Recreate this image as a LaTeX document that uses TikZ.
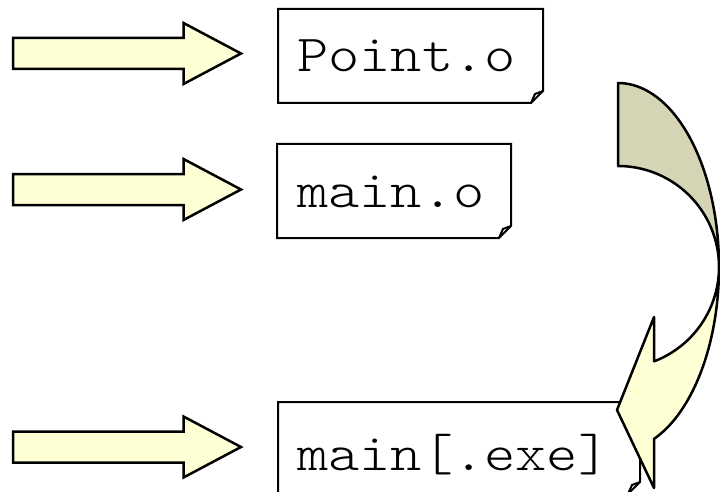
\documentclass[tikz,border=0pt]{standalone}
\usepackage{fontspec}
\newfontfamily\courfont[FakeStretch=1.143]{lmmonolt10-regular.otf}
\usetikzlibrary{calc}
\definecolor{ylw}{RGB}{255,255,213}
\definecolor{olv}{RGB}{213,213,181}
\tikzset{
  blockarrow/.style={fill=ylw,draw=black,line width=2.5pt,line join=miter},
  docline/.style={draw=black,line width=2pt,line join=miter},
  boxarea/.style={rectangle,inner sep=0pt,outer sep=0pt},
  fname/.style={font=\fontsize{52}{60}\selectfont\courfont,anchor=base west,inner sep=0pt},
  curvegrey/.style={fill=olv,draw=black,line width=2.5pt,line join=round},
  curveyel/.style={fill=ylw,draw=black,line width=2.5pt,line join=round},
  blockarr/.pic={\draw[blockarrow] (0,-15.5) -- (170.5,-15.5) -- (170.5,-30.5) -- (228,0) -- (170.5,30.5) -- (170.5,15.5) -- (0,15.5) -- cycle;}
}
\newcommand{\docshape}[1]{%
  \draw[docline,fill=white] (#1.north west) -- (#1.north east) -- ($(#1.south east)+(0,-12)$) -- ($(#1.south east)+(-12,0)$) -- (#1.south west) -- cycle;
  \draw[docline] ($(#1.south east)+(-12,0)$) -- ($(#1.south east)+(-8,-9)$) -- ($(#1.south east)+(0,-12)$);}
\begin{document}
\begin{tikzpicture}[x=1pt,y=-1pt]
\useasboundingbox (0,0) rectangle (720,492);
% block arrows
\pic at (13,53.5) {blockarr};
\pic at (13,189.5) {blockarr};
\pic at (13,447) {blockarr};
% document boxes
\node[boxarea,minimum width=265,minimum height=94] (b1) at (410.5,56) {};
\node[boxarea,minimum width=234,minimum height=94] (b2) at (394,191) {};
\node[boxarea,minimum width=362,minimum height=92] (b3) at (459,448) {};
\docshape{b1}
\docshape{b2}
\docshape{b3}
\node[fname] (t1) at (297,72) {Point.o};
\node[fname] (t2) at (297,207) {main.o};
\node[fname] (t3) at (297,470) {main[.exe]};
% curved arrow
\draw[curvegrey] plot[domain=90:0,samples=50] ({618+101*cos(\x)},{267-184*sin(\x)})
  -- plot[domain=0:90,samples=50] ({618+101*cos(\x)},{267-101*sin(\x)}) -- cycle;
\draw[curveyel] plot[domain=0:-69.1,samples=50] ({618+101*cos(\x)},{267-184*sin(\x)})
  -- (654,488) -- (617,410) -- (654,317) -- (654,361.3)
  -- plot[domain=-69.1:0,samples=50] ({618+101*cos(\x)},{267-101*sin(\x)}) -- cycle;
\end{tikzpicture}
\end{document}
